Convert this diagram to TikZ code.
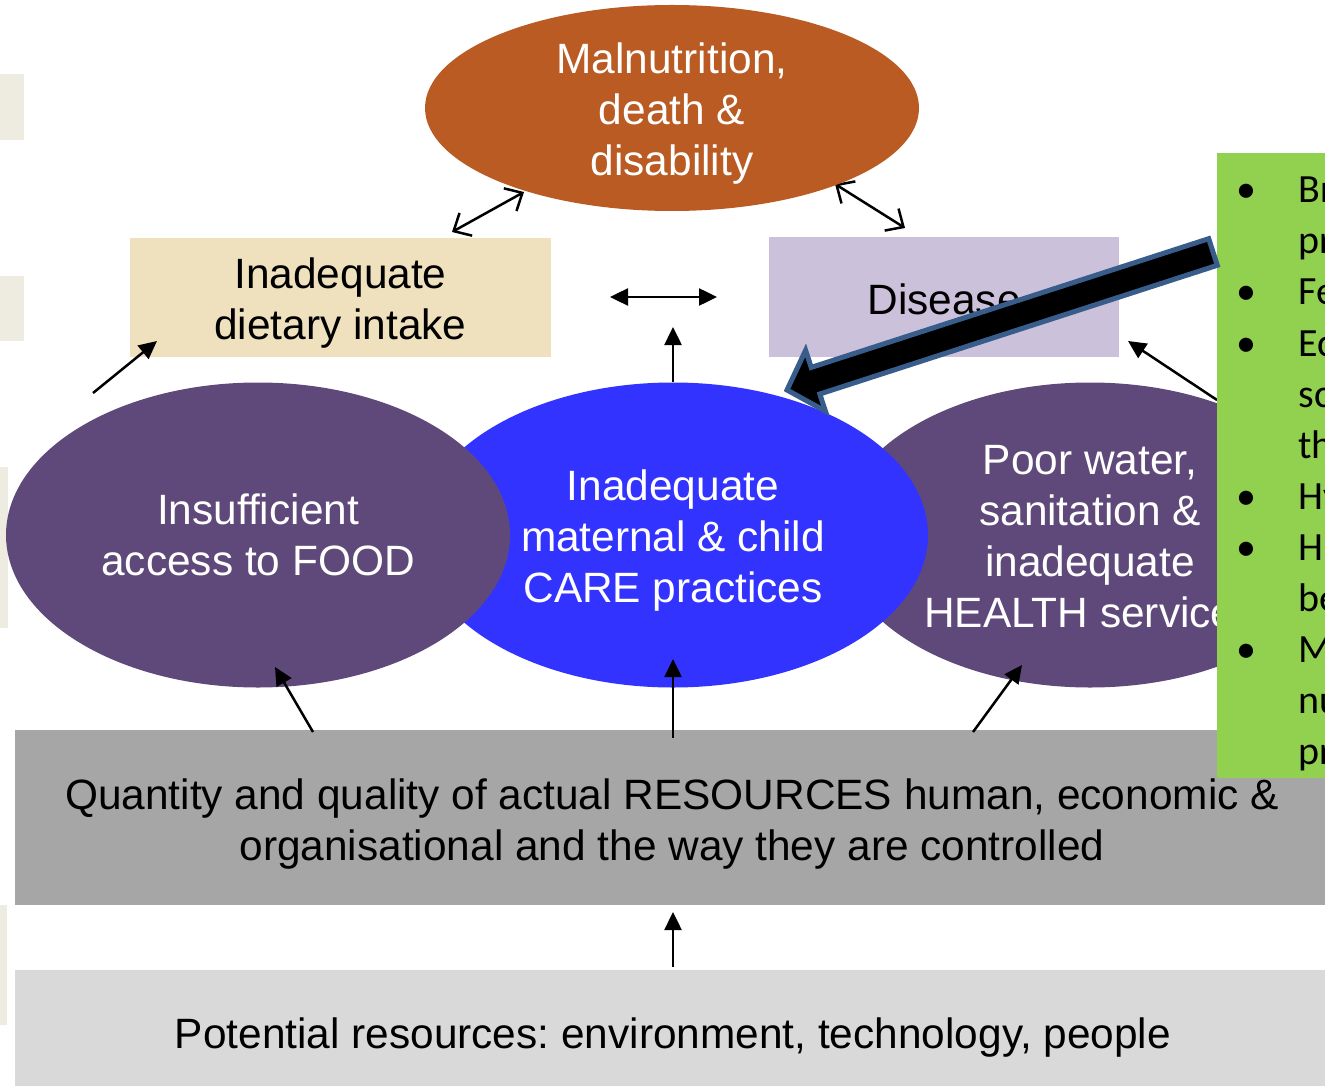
\documentclass[tikz,border=0pt]{standalone}
\usepackage{fontspec}
\setmainfont{Liberation Sans}
\newfontfamily\calibri{Carlito}
\usetikzlibrary{shapes.geometric,arrows.meta}
\definecolor{orangeC}{RGB}{185,91,35}
\definecolor{beigeC}{RGB}{239,224,190}
\definecolor{lavC}{RGB}{204,193,218}
\definecolor{purpC}{RGB}{95,73,122}
\definecolor{blueC}{RGB}{51,51,255}
\definecolor{greenC}{RGB}{146,208,80}
\definecolor{greyC}{RGB}{166,166,166}
\definecolor{lgreyC}{RGB}{217,217,217}
\definecolor{stripC}{RGB}{238,236,225}
\definecolor{arrowblue}{RGB}{56,93,138}
\frenchspacing
\begin{document}
\begin{tikzpicture}[x=0.5pt,y=-0.5pt,
  every node/.style={font=\fontsize{21.2}{25.5}\selectfont},
  ell/.style={ellipse, inner sep=0pt},
  etext/.style={text=white, align=center, inner sep=0pt},
  box/.style={rectangle, inner sep=0pt, align=center},
  arr/.style={line width=1.25pt, -{Triangle[length=9pt,width=8.5pt]}},
  darr/.style={line width=1.25pt, {Triangle[length=9pt,width=8.5pt]}-{Triangle[length=9pt,width=8.5pt]}},
  oarr/.style={line width=1.25pt, {Straight Barb[length=7pt,width=13pt]}-{Straight Barb[length=7pt,width=13pt]}},
  gtext/.style={anchor=base west, inner sep=0pt, font=\calibri\fontsize{20}{25.5}\selectfont},
  strip/.style={fill=stripC, draw=none}]
\useasboundingbox (0,0) rectangle (1325,1085);
\clip (0,0) rectangle (1325,1085);
% left strips
\fill[strip] (0,74) rectangle (24,140);
\fill[strip] (0,276) rectangle (24,341);
\fill[strip] (0,467) rectangle (8,628);
\fill[strip] (0,905) rectangle (7,1025);
% coordinates
\coordinate (a1s) at (452,232);
\coordinate (a1e) at (524,192);
\coordinate (a2s) at (835,184);
\coordinate (a2e) at (905,228);
\coordinate (a3s) at (610,297);
\coordinate (a3e) at (717,297);
\coordinate (a4s) at (673,382);
\coordinate (a4e) at (673,327);
\coordinate (a5s) at (93,393);
\coordinate (a5e) at (157,341);
\coordinate (a6s) at (1217,400);
\coordinate (a6e) at (1128,341);
\coordinate (a7s) at (313,732);
\coordinate (a7e) at (275,667);
\coordinate (a8s) at (673,738);
\coordinate (a8e) at (673,659);
\coordinate (a9s) at (973,732);
\coordinate (a9e) at (1022,665);
\coordinate (a10s) at (673,967);
\coordinate (a10e) at (673,912);
% open arrows to the top ellipse
\draw[oarr] (a1s) -- (a1e);
\draw[oarr] (a2s) -- (a2e);
% top ellipse
\node[ell, fill=orangeC, minimum width=247pt, minimum height=103pt] (mal) at (672,108) {};
\node[etext] (malt) at (672,113.5) {Malnutrition,\\death \&\\disability};
% rectangles
\node[box, fill=beigeC, minimum width=210.5pt, minimum height=59.5pt] (diet) at (340.5,297.5) {};
\node[box] (dietT) at (340.5,303) {Inadequate\\dietary intake};
\node[box, fill=lavC, minimum width=175pt, minimum height=60pt] (dis) at (944,297) {};
\node[box] (disT) at (944,299) {Disease};
\draw[darr] (a3s) -- (a3e);
\draw[arr] (a4s) -- (a4e);
\draw[arr] (a5s) -- (a5e);
\draw[arr] (a6s) -- (a6e);
% ellipses
\node[ell, fill=purpC, minimum width=252pt, minimum height=152.5pt] (water) at (1090,535) {};
\node[etext] (waterT) at (1090,537) {Poor water,\\sanitation \&\\inadequate\\HEALTH services};
\node[ell, fill=blueC, minimum width=255pt, minimum height=152.5pt] (care) at (673,535) {};
\node[etext] (careT) at (673,540.5) {Inadequate\\maternal \& child\\CARE practices};
\node[ell, fill=purpC, minimum width=252pt, minimum height=152.5pt] (food) at (258,535) {};
\node[etext] (foodT) at (258,535) {Insufficient\\access to FOOD};
% resources
\node[box, fill=greyC, minimum width=657.5pt, minimum height=87.5pt] (res) at (672.5,817.5) {};
\node[box, fill=lgreyC, minimum width=657.5pt, minimum height=63pt] (pot) at (672.5,1033) {};
\node[box] (potT) at (673,1038) {Potential resources: environment, technology, people};
\draw[arr] (a7s) -- (a7e);
\draw[arr] (a8s) -- (a8e);
\draw[arr] (a9s) -- (a9e);
\draw[arr] (a10s) -- (a10e);
% green box
\node[box, fill=greenC, minimum width=59pt, minimum height=312.5pt] (green) at (1276,465.5) {};
\node[align=center, inner sep=0pt] (restext) at (672,824) {Quantity and quality of actual RESOURCES human, economic \&\\organisational and the way they are controlled};
\foreach \t/\yy [count=\i] in {Br/203,pr/254,Fe/305,Ec/356,sc/407,th/458,Hy/509,H/560,be/611,M/662,nu/713,pr/764}
  \node[gtext] (g\i) at (1298,\yy) {\t};
\foreach \yy [count=\i] in {203,305,356,509,560,662}
  \node[gtext] (b\i) at (1236,\yy) {•};
% big callout arrow
\coordinate (bt1) at (1217.3,265.3);
\coordinate (bt2) at (1208.7,238.7);
\coordinate (tip) at (787,390);
\filldraw[fill=black, draw=arrowblue, line width=2.5pt, line join=miter]
  (bt1) -- (819.8,394.0) -- (825.4,411.1) -- (tip) -- (805.6,350.3) -- (811.2,367.4) -- (bt2) -- cycle;
\end{tikzpicture}
\end{document}
